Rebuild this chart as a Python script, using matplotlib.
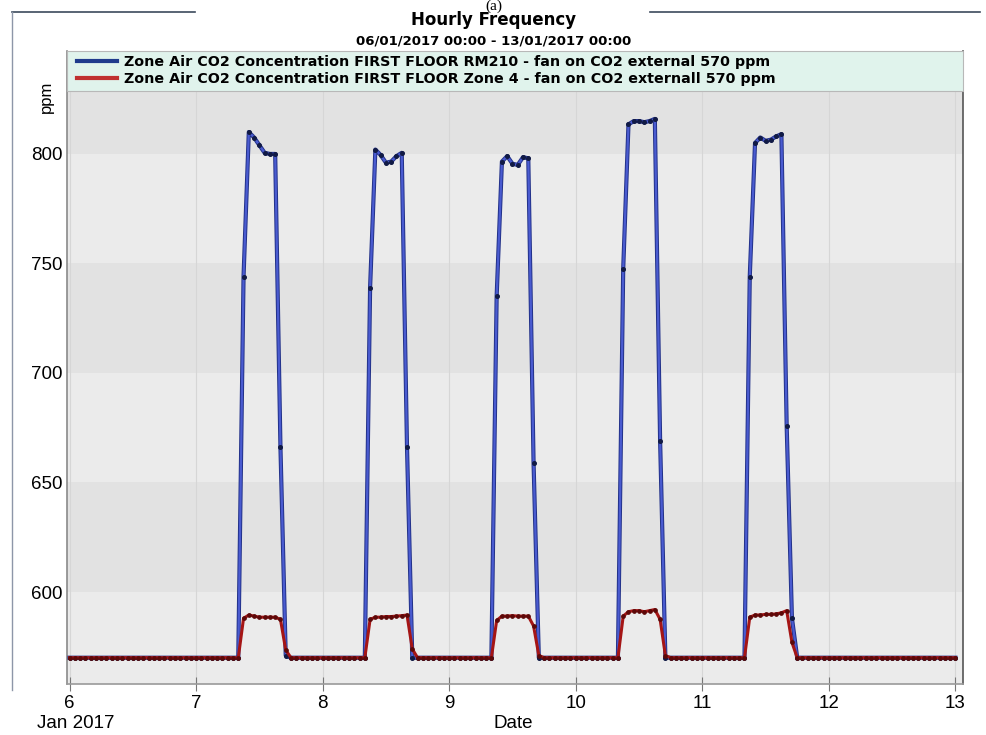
import numpy as np
import matplotlib
matplotlib.use("Agg")
import matplotlib.pyplot as plt
from matplotlib.lines import Line2D
from matplotlib.patches import Rectangle
import matplotlib.patheffects as pe

plt.rcParams['font.family'] = ['Liberation Sans', 'DejaVu Sans']

# ---- data -------------------------------------------------------------
# Hourly CO2 (ppm), 06/01/2017 00:00 to 13/01/2017 00:00.
# Outside the occupied window both zones sit at the external level.
start_day = 6
end_day = 13
baseline_ppm = 570
occupied_days = [7, 8, 9, 10, 11]
first_hour = 9  # first hour of each daily profile below

# Zone RM210, hours 09:00 ... 17:00 (day 11 runs to 18:00)
rm210_day7 = [744, 810, 807.5, 804, 800.5, 800, 800, 666, 571]
rm210_day8 = [739, 802, 799.5, 796, 796.5, 799, 800.5, 666, 570]
rm210_day9 = [735, 796.5, 799, 795.5, 795, 798.5, 798, 659, 570]
rm210_day10 = [747.5, 813.5, 815, 815, 814.5, 815, 816, 669, 570]
rm210_day11 = [744, 805, 807.5, 806, 806.5, 808, 809, 676, 588, 570]

# Zone 4, hours 09:00 ... 17:00
zone4_day7 = [588, 589.5, 589, 588.5, 588.5, 588.5, 588.5, 587.5, 573.5]
zone4_day8 = [587.5, 588.5, 588.5, 588.8, 588.8, 589, 589.2, 589.5, 574]
zone4_day9 = [587, 589, 589, 589.2, 589, 589, 589, 584.5, 571]
zone4_day10 = [589, 591, 591.5, 591.5, 591, 591.5, 592, 587.5, 571]
zone4_day11 = [588.5, 589.5, 589.5, 589.8, 589.8, 590, 590.5, 591.5, 577]

rm210_profiles = [rm210_day7, rm210_day8, rm210_day9, rm210_day10, rm210_day11]
zone4_profiles = [zone4_day7, zone4_day8, zone4_day9, zone4_day10, zone4_day11]

y_ticks = [600, 650, 700, 750, 800]
x_ticks = [6, 7, 8, 9, 10, 11, 12, 13]

label_rm210 = "Zone Air CO2 Concentration FIRST FLOOR RM210 - fan on CO2 external 570 ppm"
label_zone4 = "Zone Air CO2 Concentration FIRST FLOOR Zone 4 - fan on CO2 externall 570 ppm"


def hourly_series(profiles):
    n_hours = (end_day - start_day) * 24 + 1
    t = start_day + np.arange(n_hours) / 24.0
    v = np.full(n_hours, float(baseline_ppm))
    for day, prof in zip(occupied_days, profiles):
        i0 = (day - start_day) * 24 + first_hour
        v[i0:i0 + len(prof)] = prof
    return t, v


t_b, v_b = hourly_series(rm210_profiles)
t_r, v_r = hourly_series(zone4_profiles)

# ---- figure -----------------------------------------------------------
W, H = 987, 735
fig = plt.figure(figsize=(W / 100, H / 100), dpi=100)
fig.patch.set_facecolor('white')

ax_l, ax_r, ax_b, ax_t = 67, 963, 684, 51
aw, ah = ax_r - ax_l, ax_b - ax_t
ax = fig.add_axes([ax_l / W, 1 - ax_b / H, aw / W, ah / H])

ylo, yhi = 558, 847
xlo, xhi = 5.98, 13.06
ax.set_xlim(xlo, xhi)
ax.set_ylim(ylo, yhi)

# alternating horizontal bands
edges = [ylo] + y_ticks + [yhi]
for k in range(len(edges) - 1):
    col = '#ebebeb' if k % 2 == 0 else '#e2e2e2'
    ax.axhspan(edges[k], edges[k + 1], color=col, zorder=0, lw=0)
for xv in x_ticks:
    ax.axvline(xv, color='#d6d6d6', lw=0.8, zorder=0.5)

# series
ax.plot(t_b, v_b, color='#4a5bd0', lw=1.6, zorder=3,
        path_effects=[pe.Stroke(linewidth=3.0, foreground='#223189'), pe.Normal()])
ax.plot(t_b, v_b, ls='none', marker='o', ms=2.6, color='#111a45', zorder=4)
ax.plot(t_r, v_r, color='#a51515', lw=2.2, zorder=5)
ax.plot(t_r, v_r, ls='none', marker='o', ms=2.4, color='#5c0808', zorder=6)

# axes styling
ax.set_yticks(y_ticks)
ax.set_yticklabels([str(v) for v in y_ticks], fontsize=13.5)
ax.set_xticks(x_ticks)
ax.set_xticklabels([str(v) for v in x_ticks], fontsize=13.5)
ax.tick_params(axis='y', length=0, pad=3)
ax.tick_params(axis='x', direction='inout', length=10, color='#777777', pad=3)
ax.spines['top'].set_visible(False)
ax.spines['left'].set_color('#8a8a8a')
ax.spines['right'].set_color('#555555')
ax.spines['bottom'].set_color('#9a9a9a')
for s in ax.spines.values():
    s.set_linewidth(1.2)

# legend band across the top of the plot
band_h = 40 / ah
ax.add_patch(Rectangle((0, 1 - band_h), 1, band_h, transform=ax.transAxes,
                       facecolor='#e0f3ec', edgecolor='#b8b8b8', lw=0.8,
                       zorder=9, clip_on=False))
handles = [Line2D([], [], color='#1f3a8c', lw=3),
           Line2D([], [], color='#c03030', lw=3)]
leg = ax.legend(handles, [label_rm210, label_zone4], loc='upper left',
                bbox_to_anchor=(6 / aw, 1 - 0.5 / ah), ncol=1,
                prop={'family': 'DejaVu Sans', 'weight': 'bold', 'size': 10.3},
                handlelength=2.8, handletextpad=0.5, borderpad=0.25,
                labelspacing=0.2, frameon=False, borderaxespad=0)
leg.set_zorder(10)

# titles and axis texts
fig.text(0.5, 1 - 20 / H, "Hourly Frequency", ha='center', va='center',
         fontsize=12, fontweight='bold', family='DejaVu Sans')
fig.text(0.5, 1 - 41 / H, "06/01/2017 00:00 - 13/01/2017 00:00", ha='center',
         va='center', fontsize=9.5, fontweight='bold', family='DejaVu Sans')
fig.text(0.5, 1 - 6 / H, "(a)", ha='center', va='center', fontsize=11,
         family='Liberation Serif')
fig.text(46 / W, 1 - 97 / H, "ppm", rotation=90, ha='center', va='center',
         fontsize=12)
fig.text(37 / W, 1 - 723 / H, "Jan 2017", ha='left', va='center', fontsize=13.5)
fig.text(513 / W, 1 - 724 / H, "Date", ha='center', va='center', fontsize=13.5)

# outer frame broken by the title
fig.add_artist(Line2D([12 / W, 195 / W], [1 - 12 / H] * 2, color='#3c4a5c', lw=1.2))
fig.add_artist(Line2D([650 / W, 980 / W], [1 - 12 / H] * 2, color='#3c4a5c', lw=1.2))
fig.add_artist(Line2D([12 / W, 12 / W], [1 - 12 / H, 1 - 690 / H], color='#8d96a8', lw=1.0))

fig.savefig("out.png", dpi=100)
